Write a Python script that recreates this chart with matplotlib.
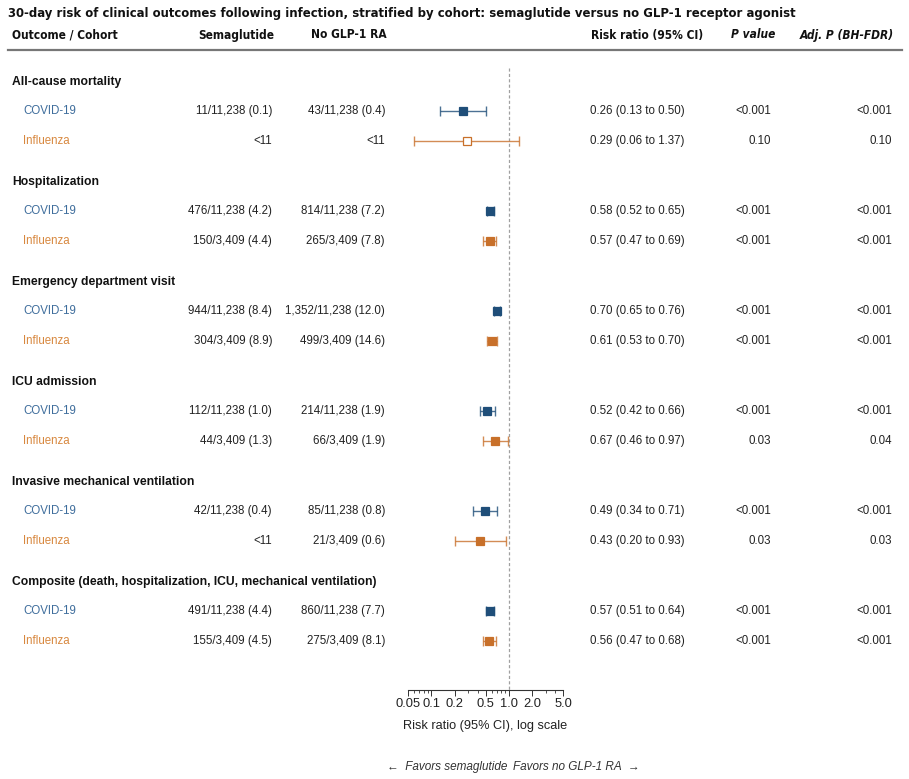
import matplotlib
matplotlib.use("Agg")
import matplotlib.pyplot as plt
import matplotlib.transforms as mtransforms
from matplotlib.ticker import FixedLocator, NullFormatter, LogLocator
from matplotlib import font_manager
from matplotlib.font_manager import FontProperties

# ---------------- data ----------------
outcomes = [
    "All-cause mortality",
    "Hospitalization",
    "Emergency department visit",
    "ICU admission",
    "Invasive mechanical ventilation",
    "Composite (death, hospitalization, ICU, mechanical ventilation)",
]
cohorts = ["COVID-19", "Influenza"]

sema_txt = [
    ["11/11,238 (0.1)", "<11"],
    ["476/11,238 (4.2)", "150/3,409 (4.4)"],
    ["944/11,238 (8.4)", "304/3,409 (8.9)"],
    ["112/11,238 (1.0)", "44/3,409 (1.3)"],
    ["42/11,238 (0.4)", "<11"],
    ["491/11,238 (4.4)", "155/3,409 (4.5)"],
]
nog_txt = [
    ["43/11,238 (0.4)", "<11"],
    ["814/11,238 (7.2)", "265/3,409 (7.8)"],
    ["1,352/11,238 (12.0)", "499/3,409 (14.6)"],
    ["214/11,238 (1.9)", "66/3,409 (1.9)"],
    ["85/11,238 (0.8)", "21/3,409 (0.6)"],
    ["860/11,238 (7.7)", "275/3,409 (8.1)"],
]
rr = [[0.26, 0.29], [0.58, 0.57], [0.70, 0.61], [0.52, 0.67], [0.49, 0.43], [0.57, 0.56]]
lo = [[0.13, 0.06], [0.52, 0.47], [0.65, 0.53], [0.42, 0.46], [0.34, 0.20], [0.51, 0.47]]
hi = [[0.50, 1.37], [0.65, 0.69], [0.76, 0.70], [0.66, 0.97], [0.71, 0.93], [0.64, 0.68]]
pval = [["<0.001", "0.10"], ["<0.001", "<0.001"], ["<0.001", "<0.001"],
        ["<0.001", "0.03"], ["<0.001", "0.03"], ["<0.001", "<0.001"]]
padj = [["<0.001", "0.10"], ["<0.001", "<0.001"], ["<0.001", "<0.001"],
        ["<0.001", "0.04"], ["<0.001", "0.03"], ["<0.001", "<0.001"]]
tick_vals = [0.05, 0.1, 0.2, 0.5, 1.0, 2.0, 5.0]
tick_labels = ["0.05", "0.1", "0.2", "0.5", "1.0", "2.0", "5.0"]
title = "30-day risk of clinical outcomes following infection, stratified by cohort: semaglutide versus no GLP-1 receptor agonist"
headers = ["Outcome / Cohort", "Semaglutide", "No GLP-1 RA", "Risk ratio (95% CI)", "P value", "Adj. P (BH-FDR)"]

# ---------------- style ----------------
plt.rcParams["font.family"] = ["Liberation Sans", "DejaVu Sans"]

def find_condensed(bold=True, italic=False):
    best = None
    for f in font_manager.fontManager.ttflist:
        nm = (f.name + " " + f.fname).lower()
        if ("narrow" in nm or "condensed" in nm) and "semicondensed" not in nm:
            isbold = (f.weight in ("bold", 700) or (isinstance(f.weight, int) and f.weight >= 600))
            isit = f.style in ("italic", "oblique")
            if isbold == bold and isit == italic:
                if best is None or "liberation" in nm:
                    best = f.fname
    return best

cb = find_condensed(True, False)
cbi = find_condensed(True, True)

def hdr_props(italic=False, size=10):
    path = cbi if italic else cb
    if path:
        return dict(fontproperties=FontProperties(fname=path, size=size))
    return dict(family=["Liberation Sans", "DejaVu Sans"], fontweight="bold",
                style="italic" if italic else "normal", fontsize=size)

mark_col = {"COVID-19": "#1f4e79", "Influenza": "#c8702a"}
text_col = {"COVID-19": "#3e6d9c", "Influenza": "#d8883f"}

W, H = 909, 779
fig = plt.figure(figsize=(W / 100, H / 100), dpi=100)
renderer = fig.canvas.get_renderer()

def fx(px):
    return px / W

# forest axes: pixel layout
ax_x0, ax_x1 = 408, 563
ax_ytop, ax_ybot = 60, 690
ax = fig.add_axes([ax_x0 / W, 1 - ax_ybot / H, (ax_x1 - ax_x0) / W, (ax_ybot - ax_ytop) / H])
ax.set_xscale("log")
ax.set_xlim(0.05, 5.0)
ax.set_ylim(ax_ybot, ax_ytop)
for s in ["top", "right", "left"]:
    ax.spines[s].set_visible(False)
ax.spines["bottom"].set_linewidth(0.8)
ax.spines["bottom"].set_color("#333333")
ax.set_yticks([])
ax.xaxis.set_major_locator(FixedLocator(tick_vals))
ax.set_xticklabels(tick_labels, fontsize=9.3)
ax.xaxis.set_minor_locator(LogLocator(base=10, subs=range(2, 10)))
ax.xaxis.set_minor_formatter(NullFormatter())
ax.tick_params(axis="x", which="major", length=4, width=0.7, colors="#333333", pad=2, labelcolor="#222222")
ax.tick_params(axis="x", which="minor", length=2, width=0.6, colors="#333333")
ax.set_xlabel("Risk ratio (95% CI), log scale", fontsize=9.2, labelpad=7, color="#222222")
ax.plot([1, 1], [68, ax_ybot], ls=(0, (2.5, 1.8)), lw=0.9, color="#a0a0a0", zorder=1)

yt = mtransforms.blended_transform_factory(fig.transFigure, ax.transData)

# title, fitted to the reference width
t = fig.text(fx(8), 1 - 14 / H, title, va="center", ha="left", color="#111111", **hdr_props(size=12))
w = t.get_window_extent(renderer).width
t.set_fontsize(12 * 789.0 / w)

# header row: common size fitted to the reference's total header width
hx = [(12, "left"), (274, "right"), (387, "right"), (591, "left"), (775, "right"), (894, "right")]
hital = [False, False, False, False, True, True]
tot = 0
for h, it in zip(headers, hital):
    tmp = fig.text(0, 0, h, **hdr_props(it, 10))
    tot += tmp.get_window_extent(renderer).width
    tmp.remove()
hsize = 10 * 505.0 / tot
hy = 1 - 35 / H
for h, it, (px, ha) in zip(headers, hital, hx):
    fig.text(fx(px), hy, h, ha=ha, va="center", color="#111111", **hdr_props(it, hsize))
fig.add_artist(plt.Line2D([fx(8), fx(902)], [1 - 50 / H, 1 - 50 / H], color="#777777", lw=1.6,
                          transform=fig.transFigure))

fs = 8.3
y = 82
for i, oc in enumerate(outcomes):
    ax.text(fx(12), y, oc, transform=yt, fontsize=8.7, fontweight="bold", va="center", ha="left", color="#111111")
    ys = [y + 29, y + 59]
    for j, co in enumerate(cohorts):
        yy = ys[j]
        ax.text(fx(23), yy, co, transform=yt, fontsize=fs, va="center", ha="left", color=text_col[co])
        ax.text(fx(272), yy, sema_txt[i][j], transform=yt, fontsize=fs, va="center", ha="right", color="#222222")
        ax.text(fx(385), yy, nog_txt[i][j], transform=yt, fontsize=fs, va="center", ha="right", color="#222222")
        ax.text(fx(590), yy, f"{rr[i][j]:.2f} ({lo[i][j]:.2f} to {hi[i][j]:.2f})", transform=yt,
                fontsize=fs, va="center", ha="left", color="#222222")
        ax.text(fx(771), yy, pval[i][j], transform=yt, fontsize=fs, va="center", ha="right", color="#222222")
        ax.text(fx(892), yy, padj[i][j], transform=yt, fontsize=fs, va="center", ha="right", color="#222222")
        c = mark_col[co]
        sig = hi[i][j] < 1.0 or lo[i][j] > 1.0
        ax.errorbar([rr[i][j]], [yy], xerr=[[rr[i][j] - lo[i][j]], [hi[i][j] - rr[i][j]]],
                    fmt="none", ecolor=c, elinewidth=1.0, capsize=3.6, capthick=1.0, alpha=0.8, zorder=2)
        ax.plot([rr[i][j]], [yy], marker="s", ms=5.5, mec=c, mew=0.9,
                mfc=c if sig else "white", ls="none", zorder=3)
    y += 100

fig.text(fx(507), 1 - 767 / H, "\u2190  Favors semaglutide", ha="right", va="center", fontsize=8.5,
         style="italic", color="#333333")
fig.text(fx(513), 1 - 767 / H, "Favors no GLP-1 RA  \u2192", ha="left", va="center", fontsize=8.5,
         style="italic", color="#333333")

fig.savefig("out.png", dpi=100)
